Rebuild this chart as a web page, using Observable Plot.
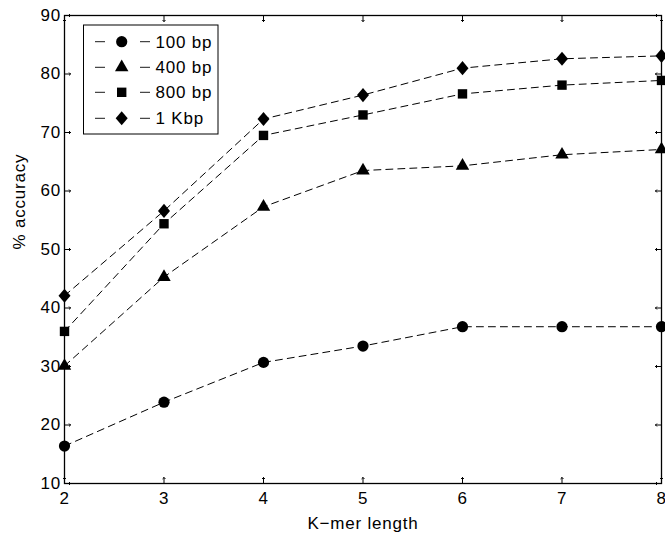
<!DOCTYPE html>
<html><head><meta charset="utf-8">
<script src="https://cdn.jsdelivr.net/npm/d3@7"></script>
<script src="https://cdn.jsdelivr.net/npm/@observablehq/plot@0.6"></script>
<style>
html,body{margin:0;padding:0;background:#fff;}
#chart svg{font-family:"Liberation Sans",Arial,sans-serif;}
</style></head><body><div id="chart"></div>
<script>
const kmer = [2, 3, 4, 5, 6, 7, 8];
const acc100 = [16.4, 23.9, 30.7, 33.5, 36.8, 36.8, 36.8];
const acc400 = [30.1, 45.3, 57.3, 63.5, 64.3, 66.2, 67.1];
const acc800 = [36.0, 54.4, 69.5, 73.0, 76.6, 78.1, 78.9];
const acc1k  = [42.1, 56.6, 72.3, 76.4, 81.0, 82.6, 83.1];
const seriesNames = ["100 bp", "400 bp", "800 bp", "1 Kbp"];
const xTicks = [2, 3, 4, 5, 6, 7, 8];
const yTicks = [10, 20, 30, 40, 50, 60, 70, 80, 90];
const xLabel = "K\u2212mer length";
const yLabel = "% accuracy";

// custom diamond (slightly narrower than tall, like MATLAB)
const diamondM = {draw(ctx, size) {
  const a = Math.sqrt(size / 1.7), b = 0.85 * a;
  ctx.moveTo(0, -a); ctx.lineTo(b, 0); ctx.lineTo(0, a); ctx.lineTo(-b, 0); ctx.closePath();
}};
const symbols = ["circle", "triangle", "square", diamondM];
const radii = [5.6, 5.0, 5.3, 5.2];
const allSeries = [acc100, acc400, acc800, acc1k];
const rows = allSeries.map(vals => kmer.map((k, i) => ({k, v: vals[i]})));

const marks = [];
rows.forEach((data, s) => {
  marks.push(Plot.line(data, {x: "k", y: "v", stroke: "#000", strokeWidth: 1, strokeDasharray: "7,5"}));
});
rows.forEach((data, s) => {
  marks.push(Plot.dot(data, {x: "k", y: "v", symbol: symbols[s], r: radii[s], fill: "#000", stroke: "none"}));
});
// inward ticks on all four sides
marks.push(Plot.vector(xTicks, {x: d => d, frameAnchor: "bottom", rotate: 0, length: 6, anchor: "start", stroke: "#000", strokeWidth: 1}));
marks.push(Plot.vector(xTicks, {x: d => d, frameAnchor: "top", rotate: 180, length: 6, anchor: "start", stroke: "#000", strokeWidth: 1}));
marks.push(Plot.vector(yTicks, {y: d => d, frameAnchor: "left", rotate: 90, length: 6, anchor: "start", stroke: "#000", strokeWidth: 1}));
marks.push(Plot.vector(yTicks, {y: d => d, frameAnchor: "right", rotate: -90, length: 6, anchor: "start", stroke: "#000", strokeWidth: 1}));
marks.push(Plot.frame({stroke: "#000", strokeWidth: 1.3}));
marks.push(Plot.axisX(xTicks, {tickSize: 0, tickPadding: 8, label: null, fill: "#000"}));
marks.push(Plot.axisY(yTicks, {tickSize: 0, tickPadding: 3.5, label: null, fill: "#000"}));
marks.push(Plot.text([xLabel], {frameAnchor: "bottom", dy: 33.3, lineAnchor: "top", text: d => d, fill: "#000"}));
marks.push(Plot.text([yLabel], {frameAnchor: "left", dx: -51.5, rotate: -90, lineAnchor: "top", text: d => d, fill: "#000"}));

const chart = Plot.plot({
  width: 665, height: 534,
  marginLeft: 64, marginRight: 4, marginTop: 15, marginBottom: 51,
  x: {domain: [2, 8]},
  y: {domain: [10, 90]},
  style: {fontSize: "17px", fontFamily: "'Liberation Sans', Arial, sans-serif", letterSpacing: "0.8px", color: "#000", background: "#fff"},
  marks
});
document.getElementById("chart").appendChild(chart);

// legend inside plot (top-left)
const svg = d3.select(chart);
const lg = svg.append("g").attr("text-anchor", "start");
lg.append("rect").attr("x", 83.5).attr("y", 25).attr("width", 134.5).attr("height", 109)
  .attr("fill", "#fff").attr("stroke", "#000").attr("stroke-width", 1);
const legendY = [41.7, 67.3, 92.3, 118.3];
const d3sym = [d3.symbolCircle, d3.symbolTriangle, d3.symbolSquare, diamondM];
seriesNames.forEach((name, i) => {
  const y = legendY[i];
  lg.append("line").attr("x1", 95).attr("x2", 105).attr("y1", y).attr("y2", y).attr("stroke", "#000").attr("stroke-width", 0.9);
  lg.append("line").attr("x1", 140).attr("x2", 150).attr("y1", y).attr("y2", y).attr("stroke", "#000").attr("stroke-width", 0.9);
  lg.append("path").attr("transform", `translate(121.7,${y})`)
    .attr("d", d3.symbol(d3sym[i], Math.PI * radii[i] * radii[i])()).attr("fill", "#000");
  lg.append("text").attr("x", 155.5).attr("y", y).attr("dy", "0.36em").attr("fill", "#000")
    .attr("text-anchor", "start").text(name);
});
</script></body></html>
